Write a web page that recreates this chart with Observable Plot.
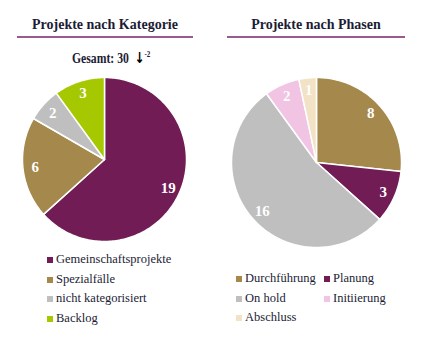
<!DOCTYPE html>
<html>
<head>
<meta charset="utf-8">
<script src="https://cdn.jsdelivr.net/npm/d3@7"></script>
<script src="https://cdn.jsdelivr.net/npm/@observablehq/plot@0.6"></script>
<style>
  html, body { margin: 0; padding: 0; background: #fff; }
  #root { position: relative; width: 437px; height: 356px; font-family: "Liberation Serif", serif; color: #1c1c34; overflow: hidden; }
  .title { position: absolute; top: 17px; font-weight: bold; font-size: 14px; text-align: center; border-bottom: 2px solid #9a5a8c; padding-bottom: 3px; }
  .gesamt { position: absolute; top: 49px; left: 72px; font-weight: bold; font-size: 15px; white-space: nowrap; transform: scaleX(0.78); transform-origin: 0 0; }
  .gesamt .arr { font-family: "DejaVu Sans", sans-serif; font-weight: bold; font-size: 15px; color: #000; }
  .gesamt sup { font-size: 9px; }
  .pie { position: absolute; }
  .legend { position: absolute; font-size: 12.5px; line-height: 19.7px; }
  .legend .item { display: flex; align-items: center; white-space: nowrap; }
  .legend .sw { width: 6px; height: 6px; margin-right: 3px; flex: none; }
  .legend.two { display: grid; grid-template-columns: 88px auto; }
</style>
</head>
<body>
<div id="root"></div>
<script>
// Data
const katTitle = "Projekte nach Kategorie";
const katCategories = ["Gemeinschaftsprojekte", "Spezialfälle", "nicht kategorisiert", "Backlog"];
const katValues = [19, 6, 2, 3];
const katColors = ["#711c55", "#a5884b", "#bfbfbf", "#a5c800"];
const gesamtLabel = "Gesamt: 30";
const gesamtDelta = "-2";

const phaseTitle = "Projekte nach Phasen";
const phaseCategories = ["Durchführung", "Planung", "On hold", "Initiierung", "Abschluss"];
const phaseValues = [8, 3, 16, 2, 1];
const phaseColors = ["#a5884b", "#711c55", "#bfbfbf", "#f0c4e2", "#f3e3c6"];

const root = document.getElementById("root");

function pieChart(categories, values, colors, radius, size, labelFactor) {
  const half = size / 2;
  const arcs = d3.pie().sort(null).value(d => d.value)(categories.map((c, i) => ({category: c, value: values[i]})));
  const pts = [];
  arcs.forEach(a => {
    const n = Math.max(2, Math.ceil((a.endAngle - a.startAngle) / 0.02));
    pts.push({category: a.data.category, x: 0, y: 0});
    for (let k = 0; k <= n; k++) {
      const t = a.startAngle + (a.endAngle - a.startAngle) * k / n;
      pts.push({category: a.data.category, x: radius * Math.sin(t), y: -radius * Math.cos(t)});
    }
    pts.push({category: a.data.category, x: 0, y: 0});
  });
  const labels = arcs.map(a => {
    const m = (a.startAngle + a.endAngle) / 2;
    return {category: a.data.category, value: a.data.value, x: radius * labelFactor * Math.sin(m), y: -radius * labelFactor * Math.cos(m)};
  });
  return Plot.plot({
    width: size, height: size,
    margin: 0,
    x: {domain: [-half, half], axis: null},
    y: {domain: [half, -half], axis: null},
    color: {domain: categories, range: colors},
    style: {background: "transparent", overflow: "visible"},
    marks: [
      Plot.line(pts, {x: "x", y: "y", z: "category", fill: "category", stroke: "white", strokeWidth: 1.5, strokeLinejoin: "round", curve: "linear"}),
      Plot.text(labels, {x: "x", y: "y", text: d => String(d.value), fill: "white", fontWeight: "bold", fontSize: 15, fontFamily: "Liberation Serif, serif", stroke: "rgba(0,0,0,0.08)", strokeWidth: 0.5})
    ]
  });
}

function legend(categories, colors, cls) {
  const div = document.createElement("div");
  div.className = "legend" + (cls ? " " + cls : "");
  categories.forEach((c, i) => {
    const it = document.createElement("div");
    it.className = "item";
    const sw = document.createElement("span");
    sw.className = "sw";
    sw.style.background = colors[i];
    const tx = document.createElement("span");
    tx.textContent = c;
    it.appendChild(sw); it.appendChild(tx);
    div.appendChild(it);
  });
  return div;
}

// Left block
const t1 = document.createElement("div");
t1.className = "title"; t1.textContent = katTitle;
t1.style.left = "17px"; t1.style.width = "176px";
root.appendChild(t1);

const g = document.createElement("div");
g.className = "gesamt";
g.innerHTML = gesamtLabel + "&nbsp; <span class='arr'>&#8595;</span><sup>" + gesamtDelta + "</sup>";
root.appendChild(g);

const p1 = pieChart(katCategories, katValues, katColors, 82, 180, 0.85);
p1.classList.add("pie");
p1.style.left = (104 - 90) + "px"; p1.style.top = (159 - 90) + "px";
root.appendChild(p1);

const l1 = legend(katCategories, katColors);
l1.style.left = "47px"; l1.style.top = "250px";
root.appendChild(l1);

// Right block
const t2 = document.createElement("div");
t2.className = "title"; t2.textContent = phaseTitle;
t2.style.left = "227px"; t2.style.width = "178px";
root.appendChild(t2);

const p2 = pieChart(phaseCategories, phaseValues, phaseColors, 85, 190, 0.86);
p2.classList.add("pie");
p2.style.left = (316 - 95) + "px"; p2.style.top = (162 - 95) + "px";
root.appendChild(p2);

const l2 = legend(phaseCategories, phaseColors, "two");
l2.style.left = "236px"; l2.style.top = "269px";
root.appendChild(l2);
</script>
</body>
</html>
